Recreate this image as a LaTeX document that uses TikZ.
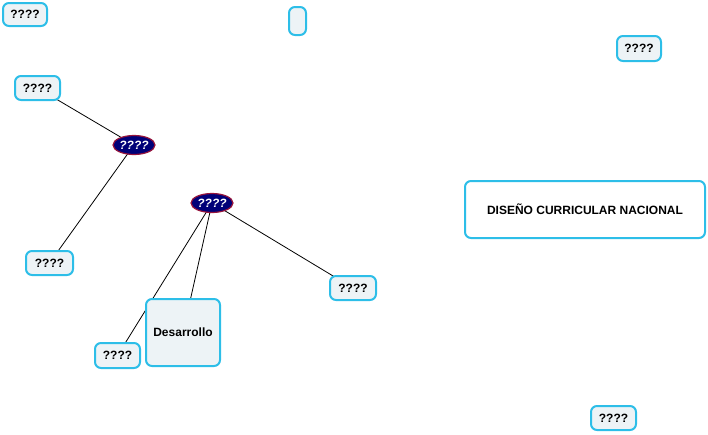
\documentclass[tikz,border=0pt]{standalone}
\usepackage{fontspec}
\setmainfont{Liberation Sans}
\usetikzlibrary{shapes.geometric, backgrounds}

\begin{document}
\begin{tikzpicture}[x=1pt, y=-1pt, line cap=round,
		% Styles
		concept/.style={draw=boxborder, fill=boxfill, line width=2pt, rounded corners=6pt,
			inner sep=0pt, font=\fontsize{12}{14}\selectfont\bfseries},
		linker/.style={ellipse, draw=linkborder, fill=linkfill, line width=1.2pt, inner sep=0pt,
			minimum width=42pt, minimum height=19pt, text=white,
			font=\fontsize{12}{14}\selectfont\bfseries\itshape},
		link line/.style={line width=0.8pt, black}
		]
		
		% Colors
		\definecolor{boxborder}{RGB}{45,190,232}
		\definecolor{boxfill}{RGB}{237,243,246}
		\definecolor{linkfill}{RGB}{0,0,120}
		\definecolor{linkborder}{RGB}{150,20,60}
		
		\useasboundingbox (0,0) rectangle (708,434);
		
		% Concepts
		\node[concept, minimum width=44pt, minimum height=23pt] (topleft) at (25,14.5) {????};
		\node[concept, minimum width=17pt, minimum height=28pt] (empty) at (297.5,21) {};
		\node[concept, minimum width=44pt, minimum height=25pt] (topright) at (639,48.5) {????};
		\node[concept, minimum width=45pt, minimum height=24pt] (upper) at (37.5,88) {????};
		\node[concept, minimum width=47pt, minimum height=24pt] (lower) at (49.5,263) {????};
		\node[concept, minimum width=46pt, minimum height=24pt] (right) at (353,288) {????};
		\node[concept, minimum width=45pt, minimum height=25pt] (small) at (117.5,355.5) {????};
		\node[concept, minimum width=74pt, minimum height=67pt] (desarrollo) at (183,332.5) {Desarrollo};
		\node[concept, fill=white, minimum width=240pt, minimum height=57pt] (dcn) at (585,209.5) {DISEÑO CURRICULAR NACIONAL};
		\node[concept, minimum width=45pt, minimum height=24pt] (bottom) at (613.5,418) {????};
		
		% Linking phrases
		\node[linker] (linkA) at (134,145) {????};
		\node[linker] (linkB) at (212,203) {????};
		
		% Connections, behind the concepts
		\begin{scope}[on background layer]
			\draw[link line] (upper.center) -- (linkA.center);
			\draw[link line] (linkA.center) -- (lower.center);
			\draw[link line] (linkB.center) -- (right.center);
			\draw[link line] (linkB.center) -- (desarrollo.center);
			\draw[link line] (linkB.center) -- (small.center); % runs under Desarrollo
		\end{scope}
		
	\end{tikzpicture}
\end{document}
